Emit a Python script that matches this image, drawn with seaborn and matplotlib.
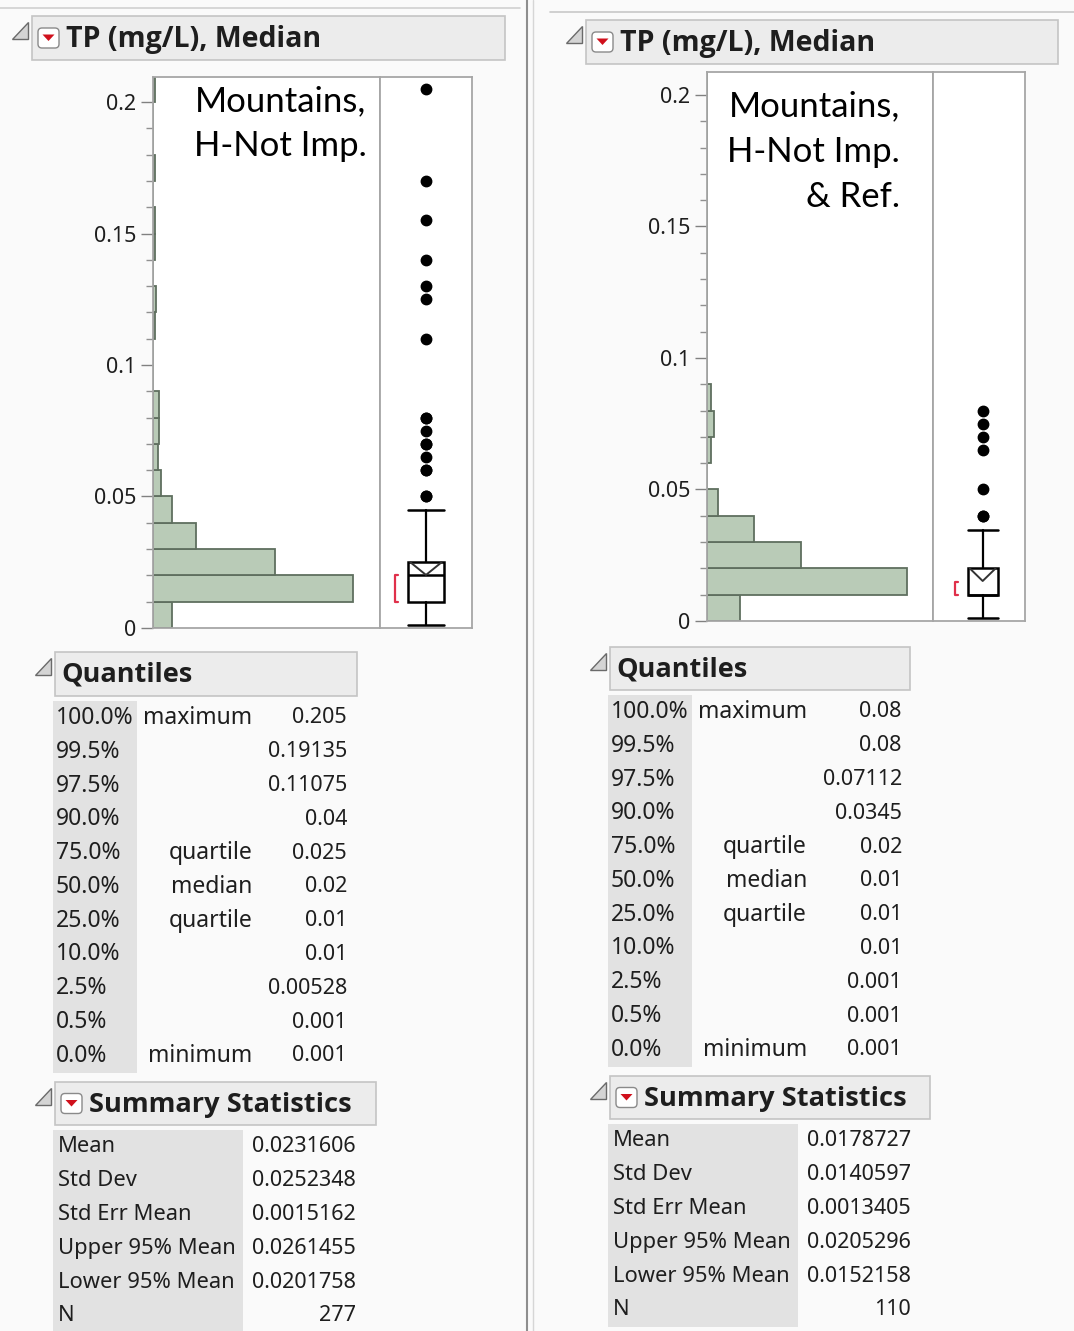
import numpy as np
import pandas as pd
import matplotlib.pyplot as plt
import matplotlib.patches as mpatches
import seaborn as sns

sns.set_theme(style="white")
plt.rcParams['font.family'] = ['Noto Sans', 'DejaVu Sans']

W, H = 1074, 1331

bin_edges = np.round(np.arange(0, 0.211, 0.01), 2)
left_counts = [12, 126, 77, 27, 12, 5, 3, 4, 4, 0, 0, 1, 2, 0, 1, 1, 0, 1, 0, 0, 1]
right_counts = [9, 55, 26, 13, 3, 0, 1, 2, 1, 0, 0, 0, 0, 0, 0, 0, 0, 0, 0, 0, 0]

left_outliers = [0.205, 0.17, 0.155, 0.14, 0.13, 0.125, 0.11, 0.08, 0.08, 0.075,
                 0.07, 0.07, 0.065, 0.06, 0.06, 0.05, 0.05]
right_outliers = [0.08, 0.075, 0.07, 0.065, 0.05, 0.04, 0.04]
left_whisker_hi = 0.045
right_whisker_hi = 0.0345
left_shortest_half = (0.01, 0.02)
right_shortest_half = (0.01, 0.015)

q_pct = ["100.0%", "99.5%", "97.5%", "90.0%", "75.0%", "50.0%",
         "25.0%", "10.0%", "2.5%", "0.5%", "0.0%"]
q_names = ["maximum", "", "", "", "quartile", "median", "quartile", "", "", "", "minimum"]
left_q = ["0.205", "0.19135", "0.11075", "0.04", "0.025", "0.02",
          "0.01", "0.01", "0.00528", "0.001", "0.001"]
right_q = ["0.08", "0.08", "0.07112", "0.0345", "0.02", "0.01",
           "0.01", "0.01", "0.001", "0.001", "0.001"]

stat_names = ["Mean", "Std Dev", "Std Err Mean", "Upper 95% Mean", "Lower 95% Mean", "N"]
left_stats = ["0.0231606", "0.0252348", "0.0015162", "0.0261455", "0.0201758", "277"]
right_stats = ["0.0178727", "0.0140597", "0.0013405", "0.0205296", "0.0152158", "110"]

left_label = "Mountains,\nH-Not Imp."
right_label = "Mountains,\nH-Not Imp.\n& Ref."

BAR = '#b9cbb7'
BAR_EDGE = '#5f6f5f'
FRAME = '#a6a6a6'
TXT = '#1e1e1e'
HDR_BG = '#ececec'
HDR_EDGE = '#c4c4c4'
CELL_BG = '#e2e2e2'
HDR_FONT = ['Open Sans', 'DejaVu Sans']

fig = plt.figure(figsize=(W / 100, H / 100), dpi=100)
fig.patch.set_facecolor('#fafafa')
bg = fig.add_axes([0, 0, 1, 1])
bg.set_xlim(0, W)
bg.set_ylim(H, 0)
bg.axis('off')


def px_axes(x0, y0, x1, y1):
    return fig.add_axes([x0 / W, 1 - y1 / H, (x1 - x0) / W, (y1 - y0) / H])


def header(x0, y0, x1, y1, text, size, dropdown=True):
    bg.add_patch(mpatches.Rectangle((x0, y0), x1 - x0, y1 - y0, fc=HDR_BG, ec=HDR_EDGE, lw=1.2))
    ym = (y0 + y1) / 2
    bg.add_patch(mpatches.Polygon([(x0 - 20, ym + 1), (x0 - 4, ym + 1), (x0 - 4, ym - 16)],
                                  closed=True, fc='#d4d4d4', ec='#6a6a6a', lw=1))
    tx = x0 + 6
    if dropdown:
        bg.add_patch(mpatches.FancyBboxPatch((x0 + 6, ym - 10), 21, 20, boxstyle="round,pad=0,rounding_size=4",
                                             fc='white', ec='#8a8a8a', lw=1))
        bg.add_patch(mpatches.Polygon([(x0 + 10.5, ym - 3.5), (x0 + 22.5, ym - 3.5), (x0 + 16.5, ym + 3)],
                                      closed=True, fc='#d0101c', ec='none'))
        tx = x0 + 34
    bg.text(tx, ym + 1, text, fontsize=size, fontweight='bold', family=HDR_FONT,
            color=TXT, va='center', ha='left')


def quantile_table(x0, y0, values):
    # x0: left of the shaded percent column, y0: top of the rows
    row = 33.8
    bg.add_patch(mpatches.Rectangle((x0, y0), 84, row * len(q_pct), fc=CELL_BG, ec='none'))
    for i, (p, n, v) in enumerate(zip(q_pct, q_names, values)):
        y = y0 + row * (i + 0.5)
        bg.text(x0 + 3, y, p, fontsize=16.5, color=TXT, va='center', ha='left')
        bg.text(x0 + 199, y, n, fontsize=16.5, color=TXT, va='center', ha='right')
        bg.text(x0 + 294, y, v, fontsize=15.5, color=TXT, va='center', ha='right')


def stats_table(x0, y0, values):
    row = 33.8
    bg.add_patch(mpatches.Rectangle((x0, y0), 190, row * len(stat_names), fc=CELL_BG, ec='none'))
    for i, (n, v) in enumerate(zip(stat_names, values)):
        y = y0 + row * (i + 0.5)
        bg.text(x0 + 5, y, n, fontsize=15.8, color=TXT, va='center', ha='left')
        bg.text(x0 + 303, y, v, fontsize=15.5, color=TXT, va='center', ha='right')


def distribution(hx0, sep, bx1, ytop, ybot, counts, xmax, outliers, qvals, svals,
                 whisker_hi, shortest_half, box_x, box_w, label, label_x, label_y):
    ymax = (ybot - ytop) / 2630
    ax = px_axes(hx0, ytop, sep, ybot)
    hist_df = pd.DataFrame({"tp": bin_edges[:-1] + 0.005, "n": counts})
    sns.histplot(data=hist_df, y="tp", weights="n", binwidth=0.01, binrange=(0, 0.21), ax=ax,
                 color=BAR, edgecolor=BAR_EDGE, linewidth=1.3, alpha=1)
    ax.set_xlim(0, xmax)
    ax.set_ylim(0, ymax)
    ax.set_xticks([])
    ax.set_yticks([0, 0.05, 0.1, 0.15, 0.2])
    ax.set_yticklabels(["0", "0.05", "0.1", "0.15", "0.2"])
    ax.set_yticks(np.arange(0, 0.201, 0.01), minor=True)
    ax.tick_params(axis='y', which='major', direction='out', length=9, width=1, color='#808080',
                   labelsize=15.5, labelcolor=TXT, pad=3, left=True)
    ax.tick_params(axis='y', which='minor', direction='out', length=5, width=1, color='#909090', left=True)
    ax.set_xlabel('')
    ax.set_ylabel('')
    ax.set_facecolor('white')
    for s in ax.spines.values():
        s.set_color(FRAME)
        s.set_linewidth(1.3)
    ax.text(label_x, label_y, label, transform=ax.transAxes, ha='right', va='top',
            fontsize=25, family='Lato', color='black', linespacing=1.5)

    bx = px_axes(sep, ytop, bx1, ybot)
    q1, med, q3 = float(qvals[6]), float(qvals[5]), float(qvals[4])
    lo = float(qvals[10])
    mean, up95, lo95 = float(svals[0]), float(svals[3]), float(svals[4])
    stats = [dict(med=med, q1=q1, q3=q3, whislo=lo, whishi=whisker_hi, fliers=outliers)]
    bx.bxp(stats, positions=[box_x], widths=box_w, showfliers=True, patch_artist=True,
           boxprops=dict(facecolor='white', edgecolor='black', linewidth=1.8),
           medianprops=dict(color='black', linewidth=1.8),
           whiskerprops=dict(color='black', linewidth=1.6),
           capprops=dict(color='black', linewidth=1.8),
           capwidths=box_w,
           flierprops=dict(marker='o', markerfacecolor='black', markeredgecolor='black', markersize=7.5))
    # mean diamond, clipped to the box: only its lower "V" stays visible
    hw = box_w / 2
    top = min(up95, q3)
    bx.plot([box_x - hw * 0.85, box_x, box_x + hw * 0.85], [top, lo95, top],
            color='#333333', lw=1.4, zorder=4)
    sx = box_x - hw - 0.28
    bx.plot([sx + 0.07, sx, sx, sx + 0.07], [shortest_half[0], shortest_half[0],
                                             shortest_half[1], shortest_half[1]],
            color='#e0304a', lw=1.6)
    bx.set_xlim(-1, 1)
    bx.set_ylim(0, ymax)
    bx.set_xticks([])
    bx.set_yticks([])
    bx.set_facecolor('white')
    for s in bx.spines.values():
        s.set_color(FRAME)
        s.set_linewidth(1.3)


# page frame / divider between the two reports
bg.plot([527, 527], [0, H], color='#8e8e8e', lw=1.5)
bg.plot([533, 533], [0, H], color='#d6d6d6', lw=1)
bg.plot([0, 520], [8, 8], color='#d0d0d0', lw=1.2)
bg.plot([550, W], [12, 12], color='#c8c8c8', lw=1.2)

# left report
header(32, 16, 505, 60, "TP (mg/L), Median", 20.5)
distribution(153, 380, 472, 77, 628, left_counts, 143, left_outliers, left_q, left_stats,
             left_whisker_hi, left_shortest_half, 0.0, 0.8, left_label, 0.94, 0.985)
header(55, 652, 357, 696, "Quantiles", 19.5, dropdown=False)
quantile_table(53, 701, left_q)
header(55, 1082, 376, 1125, "Summary Statistics", 19.6)
stats_table(53, 1130, left_stats)

# right report
header(586, 20, 1058, 64, "TP (mg/L), Median", 20.5)
distribution(707, 933, 1025, 72, 621, right_counts, 62.2, right_outliers, right_q, right_stats,
             right_whisker_hi, right_shortest_half, 0.08, 0.66, right_label, 0.855, 0.966)
header(610, 647, 910, 690, "Quantiles", 19.5, dropdown=False)
quantile_table(608, 695, right_q)
header(610, 1076, 930, 1119, "Summary Statistics", 19.6)
stats_table(608, 1124, right_stats)

fig.savefig("out.png", dpi=100, facecolor=fig.get_facecolor())
